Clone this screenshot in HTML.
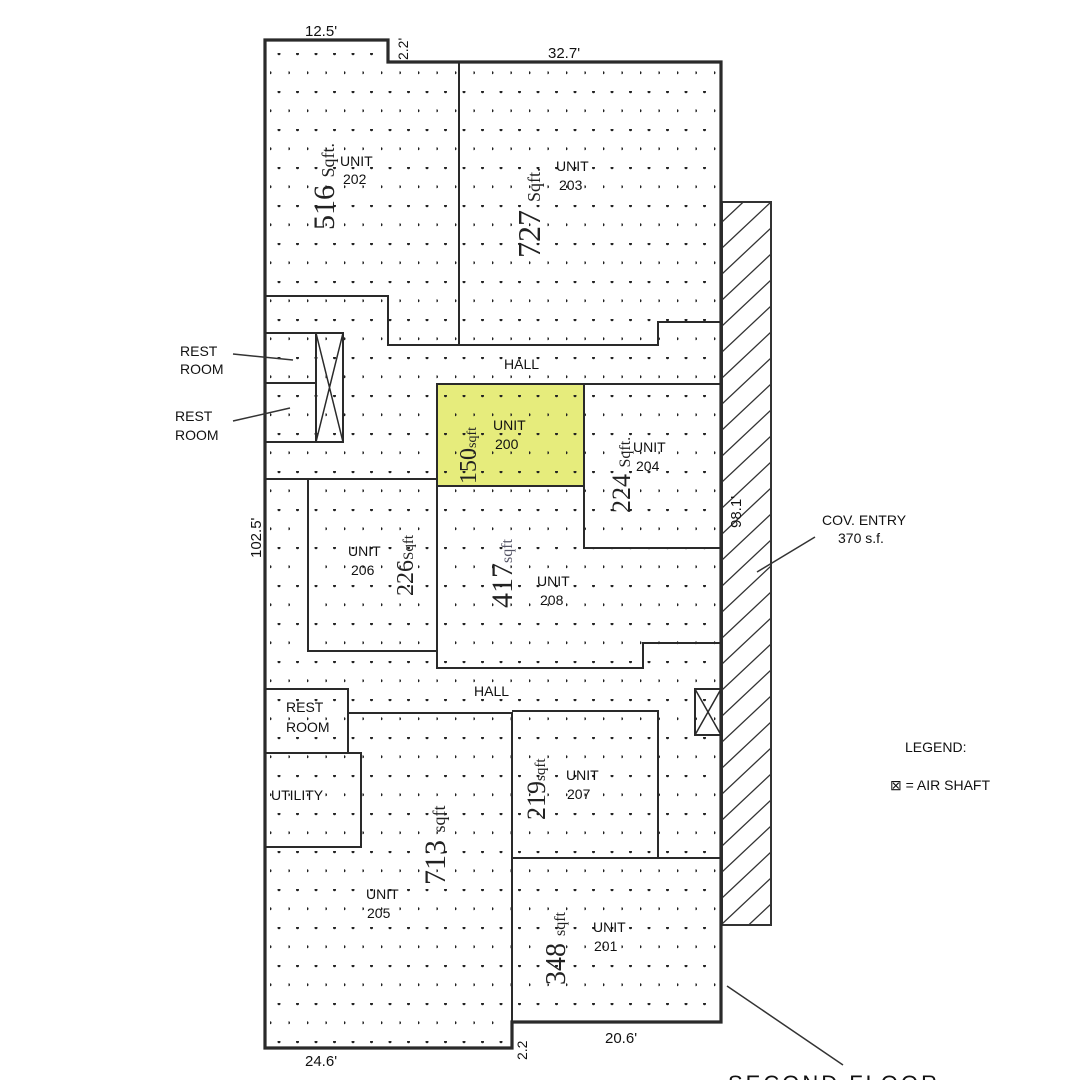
<!DOCTYPE html>
<html><head><meta charset="utf-8"><style>
html,body{margin:0;padding:0;background:#fff;}
svg{display:block;}
text{font-family:"Liberation Sans",sans-serif;fill:#111;}
.l{font-size:14px;}
.h{font-family:"Liberation Serif",serif;fill:#222;}
</style></head><body>
<svg width="1092" height="1080" viewBox="0 0 1092 1080" xmlns="http://www.w3.org/2000/svg">
<defs>
<pattern id="dots" x="270" y="53" width="18.5" height="38" patternUnits="userSpaceOnUse">
<circle cx="9" cy="0.8" r="1.5" fill="#222"/>
<circle cx="0" cy="19.8" r="1.5" fill="#222"/>
</pattern>
<pattern id="hatch" x="722" y="202" width="49" height="26" patternUnits="userSpaceOnUse">
<line x1="0" y1="46" x2="49" y2="0" stroke="#333" stroke-width="1.3"/>
<line x1="0" y1="20" x2="49" y2="-26" stroke="#333" stroke-width="1.3"/>
<line x1="0" y1="72" x2="49" y2="26" stroke="#333" stroke-width="1.3"/>
</pattern>
</defs>
<rect width="1092" height="1080" fill="#fff"/>
<rect x="437" y="384" width="147" height="102" fill="#e6ec7c"/>
<path d="M265 40 H388 V62 H721 V1022 H512 V1048 H265 Z" fill="url(#dots)"/>
<rect x="722" y="202" width="49" height="723" fill="url(#hatch)" stroke="#333" stroke-width="2"/>
<g fill="none" stroke="#2a2a2a" stroke-width="2">
<path d="M265 40 H388 V62 H721 V1022 H512 V1048 H265 Z" stroke-width="3.2"/>
<path d="M459 62 V345"/>
<path d="M265 296 H388 V345 H658 V322 H721"/>
<rect x="265" y="333" width="51" height="109"/>
<path d="M265 383 H316"/>
<rect x="316" y="333" width="27" height="109"/>
<path d="M316 333 L343 442 M343 333 L316 442" stroke-width="1.5"/>
<path d="M437 384 H721"/>
<rect x="437" y="384" width="147" height="102"/>
<path d="M584 486 V548 H721"/>
<path d="M265 479 H437 M308 479 V651 H437"/>
<path d="M437 486 V668 H643 V643 H721"/>
<rect x="265" y="689" width="83" height="64"/>
<rect x="265" y="753" width="96" height="94"/>
<path d="M348 713 H512 V1048"/>
<path d="M512 711 H658 V858"/>
<path d="M512 858 H721"/>
<rect x="695" y="689" width="26" height="46"/>
<path d="M695 689 L721 735 M721 689 L695 735" stroke-width="1.5"/>
</g>
<g stroke="#333" stroke-width="1.5">
<line x1="233" y1="354" x2="293" y2="360"/>
<line x1="233" y1="421" x2="290" y2="408"/>
<line x1="815" y1="537" x2="757" y2="572"/>
<line x1="727" y1="986" x2="843" y2="1065"/>
</g>
<text x="305" y="36" font-size="15">12.5'</text>
<text x="0" y="0" font-size="14" transform="translate(408,60) rotate(-90)">2.2'</text>
<text x="548" y="58" font-size="15">32.7'</text>
<text x="0" y="0" font-size="15" transform="translate(261,558) rotate(-90)">102.5'</text>
<text x="0" y="0" font-size="15" transform="translate(741,528) rotate(-90)">98.1'</text>
<text x="305" y="1066" font-size="15">24.6'</text>
<text x="0" y="0" font-size="14" transform="translate(527,1060) rotate(-90)">2.2</text>
<text x="605" y="1043" font-size="15">20.6'</text>
<text class="l" x="180" y="356">REST</text><text class="l" x="180" y="374">ROOM</text>
<text class="l" x="175" y="421">REST</text><text class="l" x="175" y="440">ROOM</text>
<text class="l" x="340" y="166">UNIT</text><text class="l" x="343" y="184">202</text>
<text class="l" x="556" y="171">UNIT</text><text class="l" x="559" y="190">203</text>
<text class="l" x="504" y="369">HALL</text>
<text class="l" x="493" y="430">UNIT</text><text class="l" x="495" y="449">200</text>
<text class="l" x="633" y="452">UNIT</text><text class="l" x="636" y="471">204</text>
<text class="l" x="348" y="556">UNIT</text><text class="l" x="351" y="575">206</text>
<text class="l" x="537" y="586">UNIT</text><text class="l" x="540" y="605">208</text>
<text class="l" x="474" y="696">HALL</text>
<text class="l" x="286" y="712">REST</text><text class="l" x="286" y="732">ROOM</text>
<text class="l" x="271" y="800">UTILITY</text>
<text class="l" x="566" y="780">UNIT</text><text class="l" x="567" y="799">207</text>
<text class="l" x="366" y="899">UNIT</text><text class="l" x="367" y="918">205</text>
<text class="l" x="593" y="932">UNIT</text><text class="l" x="594" y="951">201</text>
<text class="l" x="822" y="525">COV. ENTRY</text><text class="l" x="838" y="543">370  s.f.</text>
<text class="l" x="905" y="752">LEGEND:</text>
<text class="l" x="890" y="790">⊠ = AIR SHAFT</text>
<text x="728" y="1091" font-size="22" letter-spacing="3">SECOND  FLOOR</text>
<text class="h" font-size="30" transform="translate(334,230) rotate(-90)">516 <tspan font-size="18">Sqft.</tspan></text>
<text class="h" font-size="32" fill="#445" transform="translate(540,258) rotate(-90)">727 <tspan font-size="18">Sqft.</tspan></text>
<text class="h" font-size="24" transform="translate(476,484) rotate(-90)">150<tspan font-size="14">sqft</tspan></text>
<text class="h" font-size="26" transform="translate(630,513) rotate(-90)">224 <tspan font-size="16">Sqft.</tspan></text>
<text class="h" font-size="24" fill="#445" transform="translate(413,596) rotate(-90)">226<tspan font-size="15">Sqft</tspan></text>
<text class="h" font-size="30" transform="translate(512,608) rotate(-90)">417<tspan font-size="16" fill="#556">sqft</tspan></text>
<text class="h" font-size="26" transform="translate(545,820) rotate(-90)">219<tspan font-size="15">sqft</tspan></text>
<text class="h" font-size="30" transform="translate(445,885) rotate(-90)">713 <tspan font-size="18">sqft</tspan></text>
<text class="h" font-size="28" fill="#445" transform="translate(565,985) rotate(-90)">348 <tspan font-size="16">sqft</tspan></text>
</svg>
</body></html>
